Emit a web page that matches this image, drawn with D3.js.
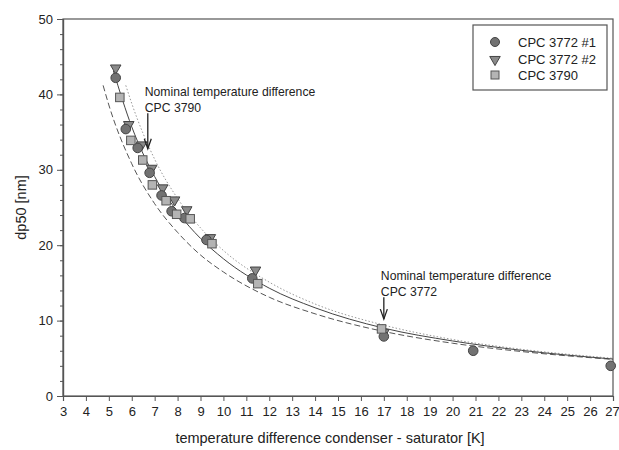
<!DOCTYPE html>
<html><head><meta charset="utf-8">
<script src="https://cdn.jsdelivr.net/npm/d3@7"></script>
<style>body{margin:0;background:#fff}svg{display:block}text{font-family:"Liberation Sans",Arial,sans-serif;fill:#222}</style>
</head><body><svg id="c" width="619" height="450"></svg>
<script>
// ---- data ----
const xTicks = d3.range(3, 28, 1);
const yTicks = [0, 10, 20, 30, 40, 50];
const yMinorTicks = d3.range(0, 51, 2);

const cpc3772_1_x = [5.3, 5.74, 6.26, 6.78, 7.3, 7.74, 8.3, 9.26, 11.26, 17.0, 20.9, 26.9];
const cpc3772_1_y = [42.2, 35.4, 32.9, 29.6, 26.6, 24.5, 23.6, 20.7, 15.6, 7.9, 6.0, 4.0];
const cpc3772_2_x = [5.3, 5.87, 6.43, 6.87, 7.35, 7.87, 8.4, 9.43, 11.4, 17.0];
const cpc3772_2_y = [43.5, 36.0, 33.3, 30.2, 27.6, 26.0, 24.7, 21.0, 16.7, 8.4];
const cpc3790_x = [5.48, 5.96, 6.48, 6.9, 7.5, 7.96, 8.55, 9.5, 11.5, 16.9];
const cpc3790_y = [39.6, 33.9, 31.3, 28.0, 25.9, 24.1, 23.5, 20.2, 14.9, 8.9];

// fit curves
const solidX = [5.2, 6, 7, 8, 9, 10, 12, 14, 17, 20, 23, 27];
const solidY = [43.1, 35.7, 29.1, 24.4, 20.9, 18.2, 14.3, 11.7, 9.0, 7.3, 6.06, 4.9];
const dashX = [4.75, 5, 6, 7, 8, 9, 10, 12, 14, 17, 20, 23, 27];
const dashY = [41.2, 38.6, 30.8, 25.5, 21.7, 18.7, 16.45, 13.1, 10.9, 8.56, 7.0, 5.9, 4.85];
const dotX = [5.74, 6, 7, 8, 9, 10, 12, 14, 17, 20, 23, 27];
const dotY = [41.2, 38.8, 31.4, 26.2, 22.3, 19.3, 15.1, 12.2, 9.4, 7.5, 6.2, 5.0];

const legendLabels = ["CPC 3772 #1", "CPC 3772 #2", "CPC 3790"];
const annotations = [
  {x: 6.7, yTop: 37.5, yBot: 32.8, lines: ["Nominal temperature difference", "CPC 3790"]},
  {x: 17.0, yTop: 13.1, yBot: 10.2, lines: ["Nominal temperature difference", "CPC 3772"]}
];

// ---- layout ----
const svg = d3.select("#c");
const L = 63, R = 613, T = 19, B = 396;
const x = d3.scaleLinear().domain([3, 27]).range([L, R]);
const y = d3.scaleLinear().domain([0, 50]).range([B, T]);

// frame
svg.append("rect").attr("x", L).attr("y", T).attr("width", R - L).attr("height", B - T)
  .attr("fill", "none").attr("stroke", "#555").attr("stroke-width", 1.2);

// axes
const xAxis = svg.append("g").attr("transform", `translate(0,${B})`)
  .call(d3.axisBottom(x).tickValues(xTicks).tickFormat(d3.format("d")).tickSize(5).tickPadding(6));
const yMinor = svg.append("g").attr("transform", `translate(${L},0)`)
  .call(d3.axisLeft(y).tickValues(yMinorTicks).tickFormat("").tickSize(3));
const yAxis = svg.append("g").attr("transform", `translate(${L},0)`)
  .call(d3.axisLeft(y).tickValues(yTicks).tickFormat(d3.format("d")).tickSize(6).tickPadding(4));
[xAxis, yAxis, yMinor].forEach(g => {
  g.select(".domain").attr("stroke", "#555").attr("stroke-width", 1.2);
  g.selectAll(".tick line").attr("stroke", "#555");
  g.selectAll("text").style("font-size", "13px").attr("fill", "#222")
    .style("font-family", "'Liberation Sans', Arial, sans-serif");
});
xAxis.selectAll(".tick text").filter(d => d === 27).attr("dx", "-1");

// titles
svg.append("text").attr("x", (L + R) / 2 - 8).attr("y", 443).attr("text-anchor", "middle")
  .style("font-size", "14.5px").text("temperature difference condenser - saturator [K]");
svg.append("text").attr("transform", `translate(26,${(T + B) / 2}) rotate(-90)`)
  .attr("text-anchor", "middle").style("font-size", "14.5px").text("dp50 [nm]");

// curves
const line = d3.line().x(d => x(d[0])).y(d => y(d[1])).curve(d3.curveMonotoneX);
const zip = (a, b) => a.map((v, i) => [v, b[i]]);
svg.append("path").attr("d", line(zip(dotX, dotY))).attr("fill", "none")
  .attr("stroke", "#999").attr("stroke-width", 1).attr("stroke-dasharray", "1.5,2");
svg.append("path").attr("d", line(zip(dashX, dashY))).attr("fill", "none")
  .attr("stroke", "#555").attr("stroke-width", 1).attr("stroke-dasharray", "6,3");
svg.append("path").attr("d", line(zip(solidX, solidY))).attr("fill", "none")
  .attr("stroke", "#444").attr("stroke-width", 1);

// markers
const tri = d3.symbol().type(d3.symbolTriangle).size(48);
function drawTri(g, cx, cy) {
  g.append("path").attr("d", tri()).attr("transform", `translate(${cx},${cy}) rotate(180)`)
    .attr("fill", "#8a8a8a").attr("stroke", "#444").attr("stroke-width", 1);
}
function drawCirc(g, cx, cy, r) {
  g.append("circle").attr("cx", cx).attr("cy", cy).attr("r", r)
    .attr("fill", "#727272").attr("stroke", "#444").attr("stroke-width", 1);
}
function drawSq(g, cx, cy, s) {
  g.append("rect").attr("x", cx - s / 2).attr("y", cy - s / 2).attr("width", s).attr("height", s)
    .attr("fill", "#b4b4b4").attr("stroke", "#555").attr("stroke-width", 1);
}
const pts = svg.append("g");
cpc3772_2_x.forEach((v, i) => drawTri(pts, x(v), y(cpc3772_2_y[i])));
cpc3772_1_x.forEach((v, i) => drawCirc(pts, x(v), y(cpc3772_1_y[i]), 4.8));
cpc3790_x.forEach((v, i) => drawSq(pts, x(v), y(cpc3790_y[i]), 8.5));

// annotations
annotations.forEach(a => {
  const ax = x(a.x), y1 = y(a.yTop), y2 = y(a.yBot);
  svg.append("line").attr("x1", ax).attr("x2", ax).attr("y1", y1).attr("y2", y2)
    .attr("stroke", "#222").attr("stroke-width", 1.3);
  svg.append("path").attr("d", `M${ax - 3.5},${y2 - 10} L${ax},${y2} L${ax + 3.5},${y2 - 10}`)
    .attr("fill", "none").attr("stroke", "#222").attr("stroke-width", 1.3);
  a.lines.forEach((t, i) => {
    svg.append("text").attr("x", ax - 3).attr("y", y1 - 17 + i * 15.5)
      .style("font-size", "12.2px").text(t);
  });
});

// legend
const lg = svg.append("g");
lg.append("rect").attr("x", 473).attr("y", 25).attr("width", 134).attr("height", 65)
  .attr("fill", "#fff").attr("stroke", "#555").attr("stroke-width", 1.2);
const rowY = [42, 58.5, 75];
drawCirc(lg, 495, rowY[0], 4.5);
drawTri(lg, 495, rowY[1] + 1);
drawSq(lg, 495, rowY[2], 8);
legendLabels.forEach((t, i) => {
  lg.append("text").attr("x", 518).attr("y", rowY[i] + 5).style("font-size", "13px").text(t);
});
</script></body></html>
